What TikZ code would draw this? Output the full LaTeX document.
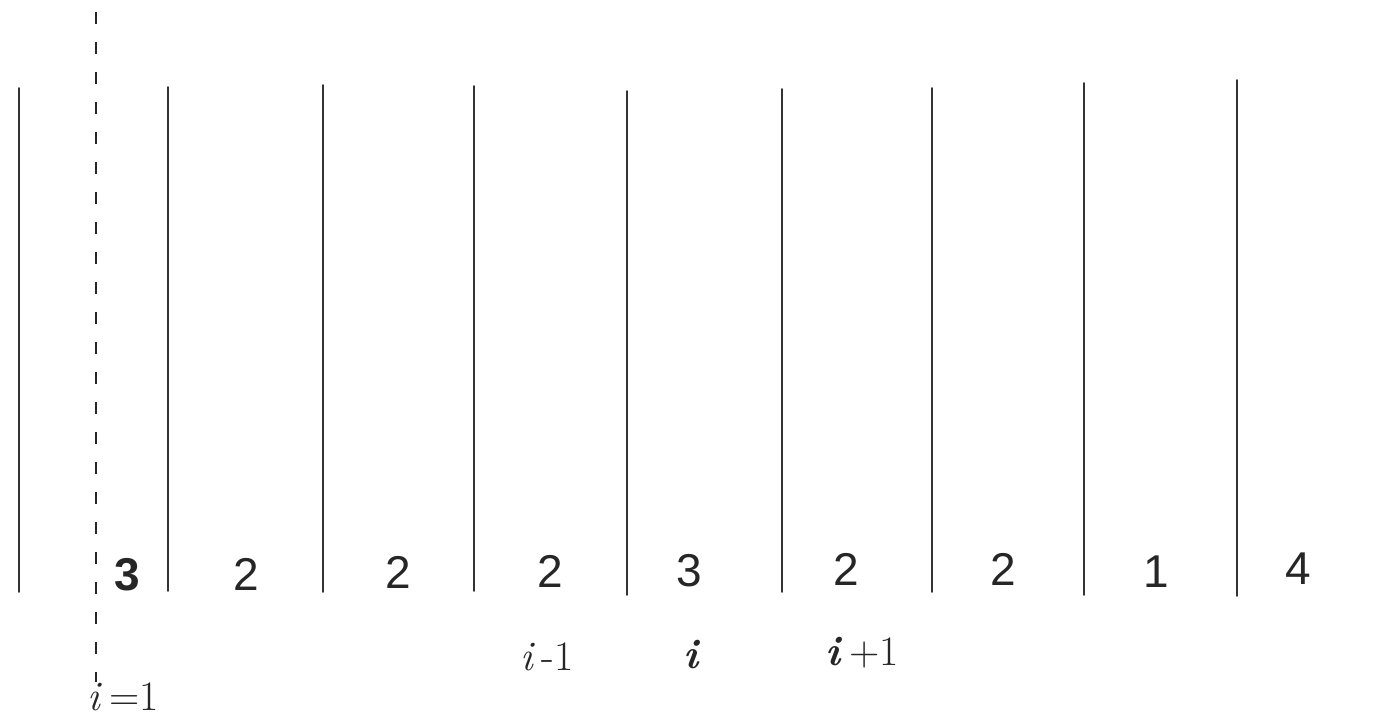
\documentclass[tikz,border=0pt]{standalone}
\usepackage{fontspec}
\setsansfont{Liberation Sans}
\begin{document}
\begin{tikzpicture}[x=1pt,y=-1pt,
  bar/.style={line width=1.6pt,color=black!80,line cap=round},
  dashbar/.style={line width=2.6pt,color=black!85,dash pattern=on 12pt off 18pt},
  num/.style={font=\sffamily\fontsize{46}{46}\selectfont,text=black!85,inner sep=0pt},
  lab/.style={font=\fontsize{42}{42}\selectfont,text=black!85,inner sep=0pt}]
\useasboundingbox (0,0) rectangle (1381,719);
% vertical bars
\foreach \n/\x/\a/\b in {1/19/88/592, 2/168/87/591, 3/323/85/592, 4/474/86/591, 5/627/91/595, 6/782/89/592, 7/932/88/592, 8/1084/83/595, 9/1237/80/596}{
  \coordinate (t\n) at (\x,\a);
  \coordinate (b\n) at (\x,\b);
  \draw[bar] (t\n) -- (b\n);
}
% dashed line
\coordinate (dt) at (96,12);
\coordinate (db) at (96,682);
\draw[dashbar] (dt) -- (db);
% numbers
\node[num,font=\sffamily\bfseries\fontsize{46}{46}\selectfont] (n1) at (127,575) {3};
\node[num] (n2) at (246,574) {2};
\node[num] (n3) at (398,572) {2};
\node[num] (n4) at (550,571) {2};
\node[num] (n5) at (689,571) {3};
\node[num] (n6) at (846,569) {2};
\node[num] (n7) at (1003,569) {2};
\node[num] (n8) at (1156,572) {1};
\node[num] (n9) at (1298,569) {4};
% index labels
\node[lab] (l1) at (547,657) {\textit{i}\,-1};
\node[lab] (l2) at (692,655) {\textbf{\textit{i}}};
\node[lab] (l3) at (862,653) {\textbf{\textit{i}}\,+1};
\node[lab] (l0) at (123,697) {\textit{i}\,=1};
\end{tikzpicture}
\end{document}
